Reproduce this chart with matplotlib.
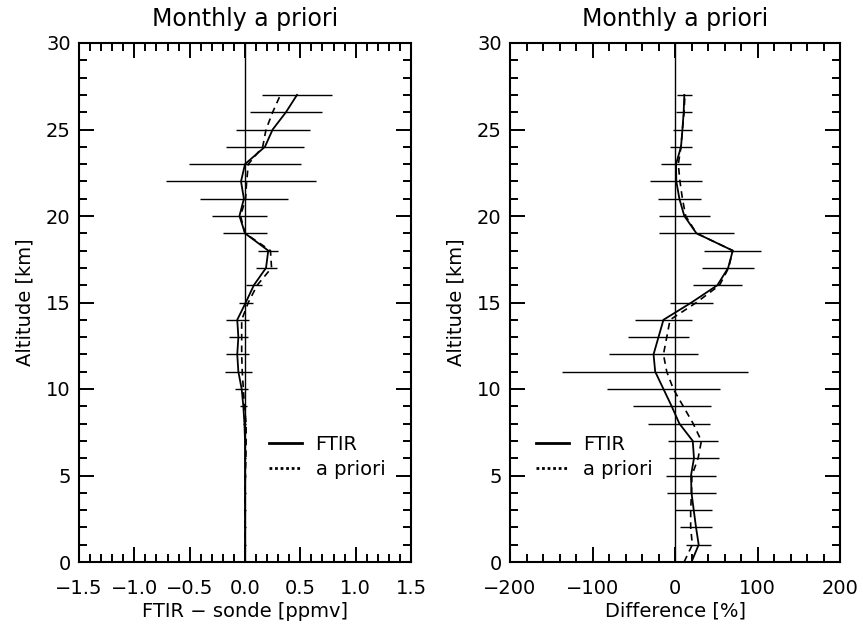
import matplotlib
matplotlib.use("Agg")
import matplotlib.pyplot as plt
from matplotlib.lines import Line2D
from matplotlib.ticker import MultipleLocator
import numpy as np

plt.rcParams['font.family'] = ['DejaVu Sans']

altitude = list(range(0, 28))

ppmv_ftir = [0.0, 0.0, 0.0, 0.0, 0.0, 0.0, 0.0, 0.0, -0.005, -0.015,
             -0.03, -0.06, -0.07, -0.06, -0.07, 0.007, 0.08, 0.19, 0.21, 0.0,
             -0.05, -0.01, -0.036, 0.0, 0.18, 0.25, 0.37, 0.47]
ppmv_apriori = [0.0, 0.0, 0.0, 0.0, 0.0, 0.003, 0.008, 0.01, 0.01, -0.005,
                -0.015, -0.025, -0.03, -0.03, -0.03, 0.03, 0.11, 0.24, 0.23, 0.0,
                -0.04, 0.005, 0.015, 0.03, 0.16, 0.19, 0.25, 0.32]
ppmv_err = [0.005, 0.005, 0.005, 0.005, 0.005, 0.005, 0.005, 0.005, 0.01, 0.03,
            0.06, 0.125, 0.105, 0.085, 0.105, 0.065, 0.075, 0.095, 0.09, 0.195,
            0.245, 0.40, 0.675, 0.505, 0.35, 0.335, 0.325, 0.32]

pct_ftir = [20, 28.7, 25.5, 22.7, 20, 19.4, 23, 21.5, 5.3, -4,
            -14, -24, -26, -20, -14, 20, 51.4, 64.4, 70, 26,
            11.3, 5.3, 1.6, 1.2, 7.3, 9, 10.5, 11.3]
pct_apriori = [11, 21, 19, 19, 20, 20.5, 28, 32, 22, 10,
               -2, -10, -14, -10, -6, 26, 54, 65, 70, 26,
               13, 9, 6, 4, 7.3, 9, 11, 12]
pct_err = [15, 15, 19, 22.5, 30, 30, 30.5, 30.5, 37.7, 47.3,
           68.7, 113, 54, 37.5, 34, 26, 30, 31.5, 34.4, 45,
           31, 26, 31.5, 18.4, 12.8, 11, 9.7, 9.2]

titles = ["Monthly a priori", "Monthly a priori"]
xlabels = ["FTIR \u2212 sonde [ppmv]", "Difference [%]"]
ylabel = "Altitude [km]"
legend_labels = ["FTIR", "a priori"]

fig = plt.figure(figsize=(8.63, 6.29), dpi=100)
ax1 = fig.add_axes([79/863, 67/629, 332/863, 519/629])
ax2 = fig.add_axes([510/863, 67/629, 330/863, 519/629])

panels = [
    (ax1, ppmv_ftir, ppmv_apriori, ppmv_err, (-1.5, 1.5), 0.5, 0.1, 0.572),
    (ax2, pct_ftir, pct_apriori, pct_err, (-200, 200), 100, 20, 0.079),
]

for i, (ax, ftir, apri, err, xlim, major, minor, legx) in enumerate(panels):
    ax.axvline(0, color='black', lw=1.0, zorder=1)
    ax.errorbar(ftir, altitude, xerr=err, fmt='none', ecolor='black',
                elinewidth=1.0, capsize=0, zorder=2)
    ax.plot(ftir, altitude, color='black', lw=1.3, zorder=3)
    ax.plot(apri, altitude, color='black', lw=1.2, ls=(0, (4, 3)), zorder=3)
    ax.set_xlim(*xlim)
    ax.set_ylim(0, 30)
    ax.xaxis.set_major_locator(MultipleLocator(major))
    ax.xaxis.set_minor_locator(MultipleLocator(minor))
    ax.yaxis.set_major_locator(MultipleLocator(5))
    ax.yaxis.set_minor_locator(MultipleLocator(1))
    ax.tick_params(which='both', direction='in', top=True, right=True,
                   labelsize=14, width=1.4, color='black')
    ax.tick_params(which='major', length=11)
    ax.tick_params(which='minor', length=6)
    ax.tick_params(axis='x', which='major', pad=12)
    ax.tick_params(axis='y', which='major', pad=6)
    for sp in ax.spines.values():
        sp.set_linewidth(1.5)
    if i == 0:
        ax.xaxis.set_major_formatter(matplotlib.ticker.FuncFormatter(
            lambda v, p: f"{v:.1f}".replace('-', '\u2212')))
    else:
        ax.xaxis.set_major_formatter(matplotlib.ticker.FuncFormatter(
            lambda v, p: f"{v:.0f}".replace('-', '\u2212')))
    ax.set_title(titles[i], fontsize=17, pad=12)
    ax.set_xlabel(xlabels[i], fontsize=14, labelpad=3)
    ax.set_ylabel(ylabel, fontsize=14, labelpad=8)
    handles = [Line2D([], [], color='black', lw=2.0, ls='-'),
               Line2D([], [], color='black', lw=2.0, ls=(0, (1, 1)))]
    ax.legend(handles, legend_labels, loc='upper left',
              bbox_to_anchor=(legx, 0.245), frameon=False, fontsize=14,
              handlelength=1.7, handletextpad=0.7, borderpad=0,
              borderaxespad=0, labelspacing=0.3)

fig.savefig("out.png", dpi=100)
